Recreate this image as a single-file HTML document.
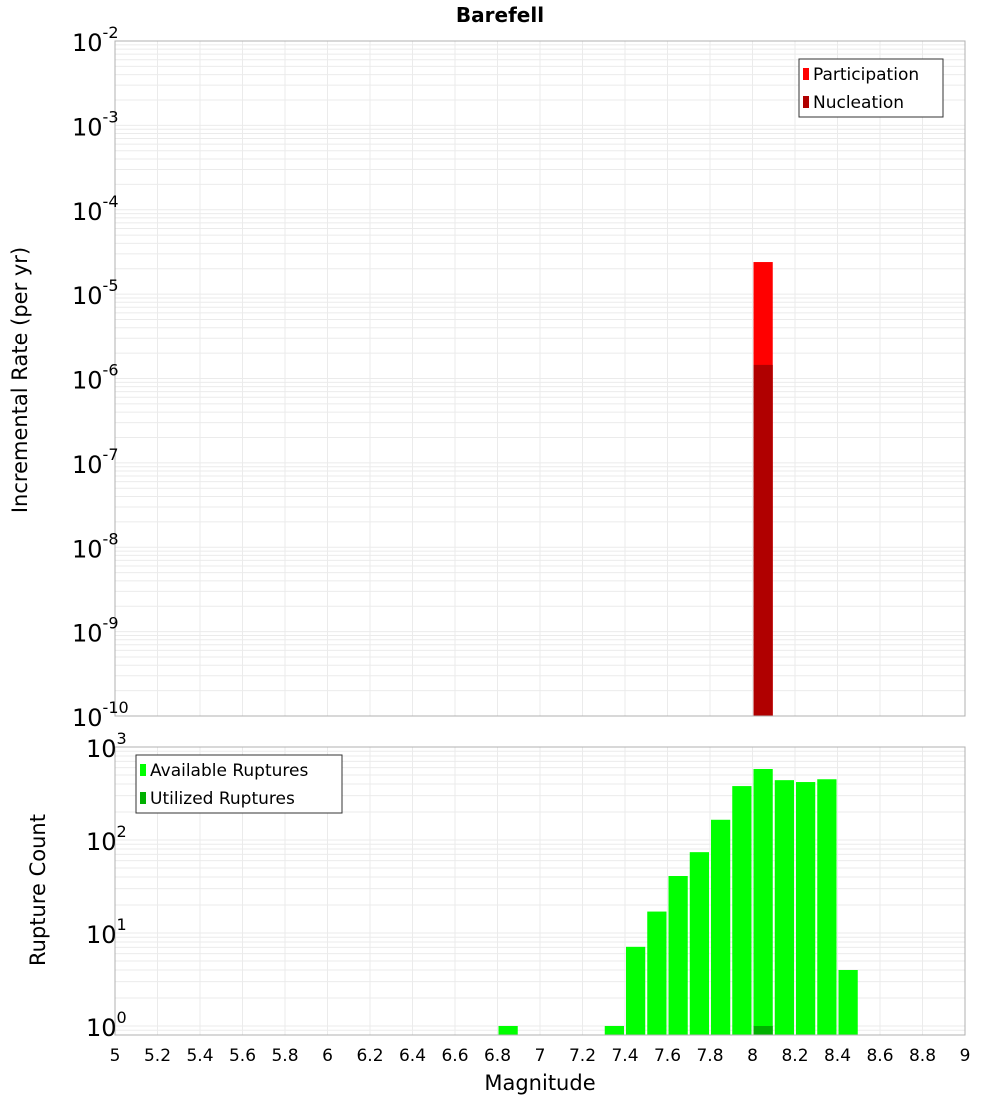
<!DOCTYPE html>
<html><head><meta charset="utf-8"><style>body{margin:0;background:#fff}svg{display:block;font-family:"DejaVu Sans","Liberation Sans",sans-serif}</style></head>
<body>
<svg id="c" width="1000" height="1100">
<text x="500" y="22" text-anchor="middle" font-size="20" font-weight="bold">Barefell</text>
<text transform="translate(27,380) rotate(-90)" text-anchor="middle" font-size="21">Incremental Rate (per yr)</text>
<text transform="translate(45,890) rotate(-90)" text-anchor="middle" font-size="21">Rupture Count</text>
<text x="540" y="1090" text-anchor="middle" font-size="21">Magnitude</text>
</svg>
<script>
const xTicks=[5,5.2,5.4,5.6,5.8,6,6.2,6.4,6.6,6.8,7,7.2,7.4,7.6,7.8,8,8.2,8.4,8.6,8.8,9];
const rateMags=[8.0];
const participation=[2.4e-5];
const nucleation=[1.45e-6];
const topExps=[-10,-9,-8,-7,-6,-5,-4,-3,-2];
const countMags=[6.8,7.3,7.4,7.5,7.6,7.7,7.8,7.9,8.0,8.1,8.2,8.3,8.4];
const available=[1,1,7.1,17,41,74,165,380,580,440,420,450,4];
const utilizedMags=[8.0];
const utilized=[1];
const botExps=[0,1,2,3];

const NS='http://www.w3.org/2000/svg',svg=document.getElementById('c');
function mk(t,a,p){const e=document.createElementNS(NS,t);for(const k in a)e.setAttribute(k,a[k]);(p||svg).appendChild(e);return e;}
const L=115,R=965;
const X=m=>L+(m-5)/4*(R-L);
const T0=41,T1=716,B0=747,B1=1035;
const yTop=v=>T1-(Math.log10(v)+10)/8*(T1-T0);
const bMin=Math.log10(0.8),bMax=3;
const yBot=v=>B1-(Math.log10(v)-bMin)/(bMax-bMin)*(B1-B0);

function grid(y0,y1,ymap,lo,hi,lowLim){
  for(const t of xTicks){const g=mk('line',{x1:X(t),x2:X(t),y1:y0,y2:y1,stroke:'#ebebeb','stroke-width':1});
    
    }
  for(let e=lo;e<hi;e++)for(let k=1;k<10;k++){const v=k*Math.pow(10,e);if(v<lowLim)continue;const y=ymap(v);
    const g=mk('line',{x1:L,x2:R,y1:y,y2:y,stroke:'#ebebeb','stroke-width':1});
    
    }
}
grid(T0,T1,yTop,-10,-2,1e-10);
grid(B0,B1,yBot,-1,3,0.8);

function bar(m,v,ymap,base,fill,name){
  const x=X(m)+1,w=X(m+0.1)-X(m)-2,y=ymap(v);
  const r=mk('rect',{x:x,y:y,width:w,height:base-y,fill:fill});
  
  
}
participation.forEach((v,i)=>bar(rateMags[i],v,yTop,T1,'#ff0000','participation-bar'));
nucleation.forEach((v,i)=>bar(rateMags[i],v,yTop,T1,'#b00000','nucleation-bar'));
available.forEach((v,i)=>bar(countMags[i],v,yBot,B1,'#00ff00','available-bar'));
utilized.forEach((v,i)=>bar(utilizedMags[i],v,yBot,B1,'#00b000','utilized-bar'));

[[T0,T1],[B0,B1]].forEach(([a,b])=>{const r=mk('rect',{x:L,y:a,width:R-L,height:b-a,fill:'none',stroke:'#b0b0b0'});
  
  });

function ylab(e,y,name){
  const t=mk('text',{x:(e<0?72:86),y:y+10,'font-size':24});
  
  
  t.textContent='10';
  const s=mk('tspan',{dy:-13,'font-size':16},t);s.textContent=String(e);
}
topExps.forEach(e=>ylab(e,yTop(Math.pow(10,e)),'top-y-tick-label'));
botExps.forEach(e=>ylab(e,yBot(Math.pow(10,e)),'bottom-y-tick-label'));
xTicks.forEach(t=>{const e=mk('text',{x:X(t),y:1061,'text-anchor':'middle','font-size':17});
  
  
  e.textContent=String(t);});

function legend(x,y,w,items,name){
  const g=mk('g',{});
  
  
  mk('rect',{x:x,y:y,width:w,height:58,fill:'#fff',stroke:'#333'},g);
  items.forEach((it,i)=>{mk('rect',{x:x+4,y:y+9+i*28,width:6,height:12,fill:it[1]},g);
    const t=mk('text',{x:x+14,y:y+21+i*28,'font-size':17},g);t.textContent=it[0];});
}
legend(799,59,144,[['Participation','#ff0000'],['Nucleation','#b00000']],'top-legend');
legend(136,755,206,[['Available Ruptures','#00ff00'],['Utilized Ruptures','#00b000']],'bottom-legend');
</script>
</body></html>
